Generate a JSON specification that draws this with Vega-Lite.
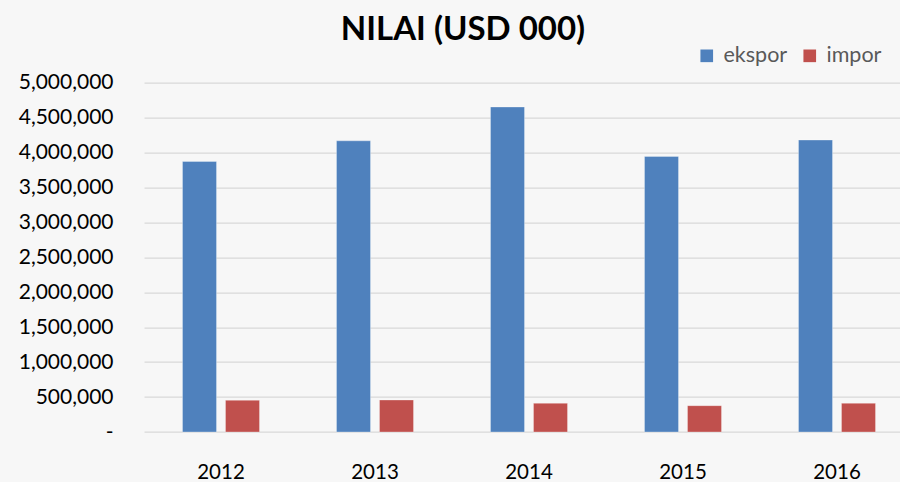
{
  "$schema": "https://vega.github.io/schema/vega-lite/v6.json",
  "autosize": {"type": "none"},
  "padding": {"left": 144, "top": 82.7, "right": 0, "bottom": 50},
  "width": 770,
  "height": 349.3,
  "background": "#f7f7f7",
  "title": {
    "text": "NILAI (USD 000)",
    "font": "Lato",
    "fontSize": 33,
    "fontWeight": "bold",
    "color": "#000000",
    "anchor": "middle",
    "dx": -66,
    "offset": -2
  },
  "data": {
    "values": [
      {"tahun": "2012", "jenis": "ekspor", "nilai": 3872000},
      {"tahun": "2012", "jenis": "impor", "nilai": 454000},
      {"tahun": "2013", "jenis": "ekspor", "nilai": 4168000},
      {"tahun": "2013", "jenis": "impor", "nilai": 458000},
      {"tahun": "2014", "jenis": "ekspor", "nilai": 4652000},
      {"tahun": "2014", "jenis": "impor", "nilai": 411000},
      {"tahun": "2015", "jenis": "ekspor", "nilai": 3944000},
      {"tahun": "2015", "jenis": "impor", "nilai": 377000},
      {"tahun": "2016", "jenis": "ekspor", "nilai": 4179000},
      {"tahun": "2016", "jenis": "impor", "nilai": 411000}
    ]
  },
  "mark": {"type": "bar", "stroke": "#ffffff", "strokeOpacity": 0.5, "strokeWidth": 0.6},
  "encoding": {
    "x": {
      "field": "tahun",
      "type": "nominal",
      "scale": {"paddingInner": 0.5, "paddingOuter": 0.25},
      "axis": {
        "title": null,
        "labelAngle": 0,
        "domain": false,
        "ticks": false,
        "labelFont": "Lato",
        "labelFontSize": 20.5,
        "labelColor": "#000000",
        "labelPadding": 30
      }
    },
    "xOffset": {
      "field": "jenis",
      "type": "nominal",
      "scale": {"paddingInner": 0.209, "paddingOuter": 0}
    },
    "y": {
      "field": "nilai",
      "type": "quantitative",
      "scale": {"domain": [0, 5000000], "nice": false},
      "axis": {
        "title": null,
        "values": [0, 500000, 1000000, 1500000, 2000000, 2500000, 3000000, 3500000, 4000000, 4500000, 5000000],
        "labelExpr": "datum.value === 0 ? '-\u00a0\u00a0\u00a0' : format(datum.value, ',')",
        "domain": false,
        "ticks": false,
        "grid": true,
        "gridColor": "#d9d9d9",
        "gridWidth": 1.3,
        "labelFont": "Lato",
        "labelFontSize": 21,
        "labelColor": "#000000",
        "labelPadding": 31
      }
    },
    "color": {
      "field": "jenis",
      "type": "nominal",
      "scale": {"domain": ["ekspor", "impor"], "range": ["#4f81bd", "#c0504d"]},
      "legend": {
        "title": null,
        "orient": "none",
        "direction": "horizontal",
        "legendX": 552,
        "legendY": -38,
        "symbolType": "square",
        "symbolSize": 160,
        "symbolStrokeWidth": 0,
        "labelFont": "Lato",
        "labelFontSize": 21.5,
        "labelColor": "#595959",
        "labelOffset": 6,
        "columnPadding": 11
      }
    }
  },
  "config": {
    "view": {"stroke": null}
  }
}
